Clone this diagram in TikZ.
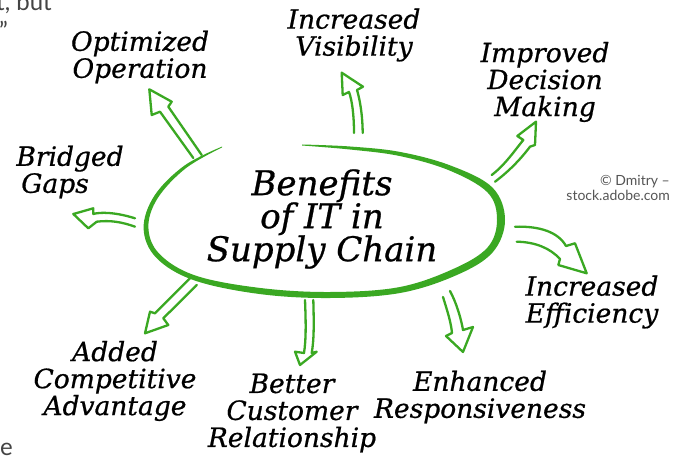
\documentclass[tikz,border=0pt]{standalone}
\usepackage{fontspec}
\setmainfont{DejaVu Serif}[ItalicFeatures={FakeBold=0.7}]
\newfontfamily\wmfont{Lato}
\definecolor{egreen}{RGB}{58,168,34}
\definecolor{wmgray}{RGB}{85,85,85}
\begin{document}
\begin{tikzpicture}[x=1pt,y=-1pt,
  hollow/.style={draw=egreen,line width=2.3pt,line join=round,line cap=round},
  lbl/.style={align=center,inner sep=0pt,font=\fontsize{26.5}{27}\selectfont\itshape},
  cenlbl/.style={align=center,inner sep=0pt,font=\fontsize{34}{33}\selectfont\itshape},
  wm/.style={align=right,inner sep=0pt,text=wmgray,font=\wmfont\fontsize{14}{15.5}\selectfont},
  frag/.style={inner sep=0pt,text=wmgray!80!black,font=\wmfont\fontsize{24}{26}\selectfont}]
\useasboundingbox (0,0) rectangle (676,457);
\fill[white] (0,0) rectangle (676,457);

% page fragments
\node[frag,anchor=base west] (f1) at (-4,11) {t, but};
\node[frag,anchor=base west] (f2) at (-1,40) {”};
\node[frag,anchor=base west] (f3) at (0,455) {e};

% central hand-drawn ellipse
\fill[egreen] plot[smooth,tension=0.6] coordinates {
 (302,144.5) (350.1,146.5) (400.4,152) (451,165.7) (492.4,187.5) (505,220)
 (492.5,252.5) (456.4,275.2) (400.6,292.9) (330,298) (259.5,294) (194.1,280.3)
 (156.4,257.9) (143.6,228.5) (154.4,195.7) (184.4,165.6) (222,146.6)}
 -- plot[smooth,tension=0.6] coordinates {
 (222,147.4) (185.6,168.4) (157.6,198.3) (148.4,227.5) (159.6,254.1) (195.9,275.7)
 (260.5,288) (330,292) (399.4,287.1) (453.6,268.8) (487.5,247.5) (497,220)
 (487.6,192.5) (449,170.3) (399.6,156) (349.9,149.5) (302,145.5)} -- cycle;

\node[cenlbl] (cen) at (322,219) {Benefits\\of IT in\\Supply Chain};

% labels
\node[lbl] (vis) at (354,35) {Increased\\Visibility};
\node[lbl] (opt) at (140,57) {Optimized\\Operation};
\node[lbl] (imp) at (545,82) {Improved\\Decision\\Making};
\node[lbl] (bri) at (70,172) {Bridged\\Gaps\phantom{xx}};
\node[lbl] (eff) at (592,302) {Increased\\Efficiency};
\node[lbl] (add) at (115,381) {Added\\Competitive\\Advantage};
\node[lbl] (bet) at (292,413) {Better\\Customer\\Relationship};
\node[lbl] (enh) at (480,397) {Enhanced\\Responsiveness};

% watermark
\node[wm,anchor=north east] (wmk) at (670,175) {© Dmitry –\\stock.adobe.com};

% hollow arrows
\draw[hollow] (354,133) .. controls (354,115) and (352,100) .. (349,92) -- (342.7,95) -- (341.7,72.7) -- (363,86.7) -- (357,90) .. controls (360,100) and (362.5,115) .. (362.7,133);
\draw[hollow] (193.3,158) -- (160,111.7) -- (151.7,115) -- (149.3,89.3) -- (171.7,101.7) -- (168.3,106.7) -- (201.7,155);
\draw[hollow] (491.7,175) .. controls (505,165) and (515,150) .. (523.3,140) -- (517.3,136) -- (536,121.7) -- (535,145) -- (530,146.7) .. controls (520,160) and (508,172) .. (495,181.7);
\draw[hollow] (135,218.3) .. controls (115,212) and (100,212) .. (93.3,214) -- (93.3,208.3) -- (73.3,214) -- (88.3,228.3) -- (96.7,221.7) .. controls (110,220) and (122,222) .. (135,226.7);
\draw[hollow] (190,278.3) -- (155,313.3) -- (150,311.7) -- (145,333.3) -- (168.3,325) -- (163.3,318.3) -- (196.7,285);
\draw[hollow] (305,300) .. controls (306,325) and (306,340) .. (304,353) -- (295,351.7) -- (300,365) -- (316.7,351.7) -- (311.7,353) .. controls (314,340) and (314,325) .. (313.3,300);
\draw[hollow] (443,297) .. controls (447,310) and (451,322) .. (452,333) -- (446,336) -- (463,352) -- (473,327) -- (463,330) .. controls (461,318) and (456,302) .. (450,291);
\draw[hollow] (515,226.7) .. controls (540,226) and (558,232) .. (566,246) -- (575,243.3) -- (586.7,273.3) -- (558.3,265) -- (560,259) .. controls (550,248) and (535,242) .. (516.7,241.7);
\end{tikzpicture}
\end{document}
